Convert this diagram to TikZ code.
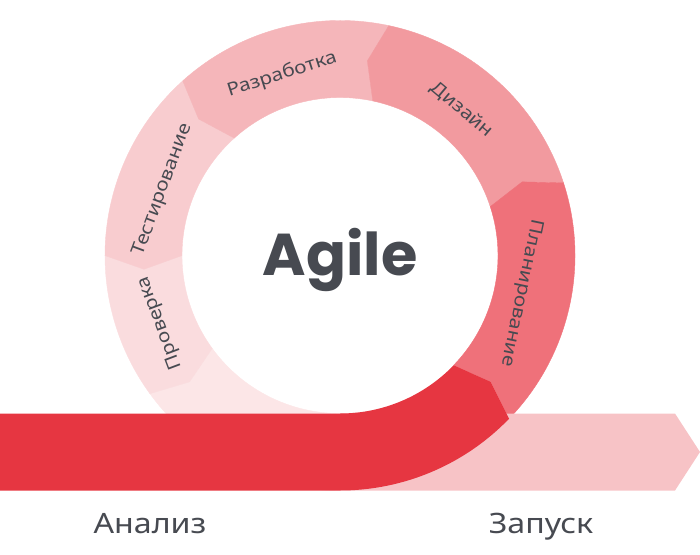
\documentclass[tikz,border=0pt]{standalone}
\usepackage{fontspec}
\setmainfont{Noto Sans}
\newfontfamily\cyrfont[FakeStretch=1.15]{Noto Sans}
\newfontfamily\agilefont{Poppins}
\definecolor{redc}{HTML}{E63641}
\definecolor{planc}{HTML}{EF717A}
\definecolor{dizc}{HTML}{F29A9F}
\definecolor{razc}{HTML}{F5B6BA}
\definecolor{testc}{HTML}{F8CCCF}
\definecolor{provc}{HTML}{FADCDE}
\definecolor{lightc}{HTML}{FCE6E7}
\definecolor{launchc}{HTML}{F7C3C6}
\definecolor{txtc}{HTML}{474A51}
\newcommand\ringseg[3]{\fill[#1,draw=#1,line width=0.4pt] (#2:235pt) arc[start angle=#2,end angle=#3,radius=235pt] -- ({#3+4}:196.5pt) -- (#3:158pt) arc[start angle=#3,end angle=#2,radius=158pt] -- ({#2+4}:196.5pt) -- cycle;}
\tikzset{
  ringlbl/.style={font=\cyrfont\fontsize{18}{18}\selectfont, text=txtc, inner sep=0pt, anchor=center},
  phaselbl/.style={font=\cyrfont\fontsize{28}{28}\selectfont, text=txtc, inner sep=0pt, anchor=base},
}
\begin{document}
\begin{tikzpicture}
\useasboundingbox (-340pt,-298.5pt) rectangle (360pt,255.5pt);
% ring segments (counterclockwise flow)
\ringseg{lightc}{216}{276}
\ringseg{provc}{180}{216}
\ringseg{testc}{132}{180}
\ringseg{razc}{78}{132}
\ringseg{dizc}{18}{78}
\ringseg{planc}{-44}{18}
% launch arrow band
\fill[launchc] (0pt,-158pt) -- (335pt,-158pt) -- (360pt,-196.5pt) -- (335pt,-235pt) -- (0pt,-235pt) -- cycle;
% red analysis band curving into ring
\fill[redc] (-340pt,-158pt) -- (0pt,-158pt) arc[start angle=270,end angle=316,radius=158pt] -- (320:196.5pt) -- (316:235pt) arc[start angle=316,end angle=270,radius=235pt] -- (-340pt,-235pt) -- cycle;
% labels
\node[ringlbl, rotate=17.7] (raz) at (107.7:190pt) {Разработка};
\node[ringlbl, rotate=-40] (diz) at (50:190pt) {Дизайн};
\node[ringlbl, rotate=-101.7] (plan) at (-11.7:185pt) {Планирование};
\node[ringlbl, rotate=69.7] (test) at (159.7:189pt) {Тестирование};
\node[ringlbl, rotate=110.6] (prov) at (200.6:192pt) {Проверка};
\node[font=\agilefont\bfseries\fontsize{59}{59}\selectfont, text=txtc, inner sep=0pt, anchor=base] (agile) at (0pt,-19.5pt) {Agile};
\node[phaselbl] (analiz) at (-190pt,-277.5pt) {Анализ};
\node[phaselbl] (zapusk) at (201pt,-277.5pt) {Запуск};
\end{tikzpicture}
\end{document}
